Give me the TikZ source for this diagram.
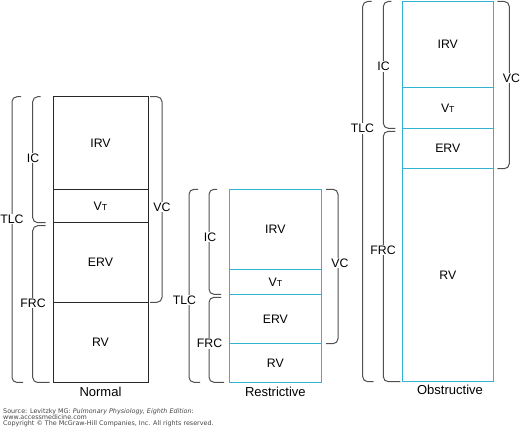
\documentclass[tikz,border=0pt]{standalone}
\usepackage{fontspec}
\setmainfont{Liberation Sans}
\newfontfamily\notefont{DejaVu Sans}
\definecolor{boxcyan}{RGB}{50,180,208}
\definecolor{boxdark}{RGB}{40,40,40}
\definecolor{bracegray}{RGB}{80,80,80}
\definecolor{notegray}{RGB}{70,70,70}
\newcommand\bracelft[5]{\draw[brc] ($(#1,#2)+(#4,0)$) -- (#1,#2) -- (#1,#3) -- ($(#1,#3)+(#5,0)$);}
\newcommand\bracergt[4]{\draw[brc] ($(#1,#2)-(#4,0)$) -- (#1,#2) -- (#1,#3) -- ($(#1,#3)-(#4,0)$);}
\newcommand\volt{V{\fontsize{8.7}{10}\selectfont T}}
\usetikzlibrary{calc}
\begin{document}
\begin{tikzpicture}[x=1pt,y=-1pt,
  cell/.style={draw, line width=0.95pt, inner sep=0pt, rectangle, font=\fontsize{12.3}{14}\selectfont},
  cellN/.style={cell, draw=boxdark, minimum width=95pt},
  cellR/.style={cell, draw=boxcyan, minimum width=92.7pt},
  cellO/.style={cell, draw=boxcyan, minimum width=91pt},
  brc/.style={draw=bracegray, line width=1pt, rounded corners=5pt},
  blab/.style={fill=white, inner sep=1pt, font=\fontsize{12.3}{14}\selectfont},
  captext/.style={inner sep=0pt, font=\fontsize{13}{14}\selectfont},
  note/.style={anchor=west, inner sep=0pt, text=notegray, font=\notefont\fontsize{6.4}{7}\selectfont}]
\useasboundingbox[fill=white] (0,0) rectangle (520,430);

% ---------- Normal ----------
\node[cellN, minimum height=92.6pt] (nirv) at (100.5,143) {IRV};
\node[cellN, minimum height=33.4pt] (nvt)  at (100.5,206) {\volt};
\node[cellN, minimum height=79.6pt] (nerv) at (100.5,262.5) {ERV};
\node[cellN, minimum height=79.7pt] (nrv)  at (100.5,342.2) {RV};
\bracelft{12}{96.7}{382.5}{9}{11}
\bracelft{32.7}{96.7}{222.7}{8}{13}
\bracelft{32.7}{225.7}{382.5}{13}{17}
\bracergt{162}{96.7}{302.3}{12}
\node[blab] (ntlc) at (12,219) {TLC};
\node[blab] (nic)  at (33,158) {IC};
\node[blab] (nfrc) at (33,303) {FRC};
\node[blab] (nvc)  at (162,207) {VC};
\node[captext] (ncap) at (100.5,392) {Normal};

% ---------- Restrictive ----------
\node[cellR, minimum height=80pt]   (rirv) at (275.35,229.3) {IRV};
\node[cellR, minimum height=25pt]   (rvt)  at (275.35,281.8) {\volt};
\node[cellR, minimum height=49.4pt] (rerv) at (275.35,319) {ERV};
\node[cellR, minimum height=38.6pt] (rrv)  at (275.35,363) {RV};
\bracelft{189}{189.3}{382.3}{9}{11}
\bracelft{209}{189.3}{294.3}{8}{12}
\bracelft{209}{297.3}{382.3}{12}{15}
\bracergt{338}{189.3}{343.7}{12}
\node[blab] (rtlc) at (184.5,300) {TLC};
\node[blab] (ric)  at (210,237) {IC};
\node[blab] (rfrc) at (209.5,343.3) {FRC};
\node[blab] (rvc)  at (340,263) {VC};
\node[captext] (rcap) at (275.35,391.5) {Restrictive};

% ---------- Obstructive ----------
\node[cellO, minimum height=86.2pt] (oirv) at (447.8,44.6) {IRV};
\node[cellO, minimum height=40.6pt] (ovt)  at (447.8,108) {\volt};
\node[cellO, minimum height=40.4pt] (oerv) at (447.8,148.5) {ERV};
\node[cellO, minimum height=213pt]  (orv)  at (447.8,275.2) {RV};
\bracelft{362.7}{1.5}{381.7}{9}{11}
\bracelft{383.3}{1.5}{128.3}{8}{12}
\bracelft{383.3}{131.3}{381.7}{12}{17}
\bracergt{509.3}{1.5}{168.7}{12}
\node[blab] (otlc) at (362.5,128.3) {TLC};
\node[blab] (oic)  at (383.5,66.7) {IC};
\node[blab] (ofrc) at (383,250) {FRC};
\node[blab] (ovc)  at (511.5,78) {VC};
\node[captext] (ocap) at (450,390) {Obstructive};

% ---------- Source note ----------
\node[note] (src1) at (3,412) {Source: Levitzky MG: \textit{Pulmonary Physiology, Eighth Edition}:};
\node[note] (src2) at (3,417.6) {www.accessmedicine.com};
\node[note] (src3) at (3,423.8) {Copyright © The McGraw-Hill Companies, Inc. All rights reserved.};
\end{tikzpicture}
\end{document}
